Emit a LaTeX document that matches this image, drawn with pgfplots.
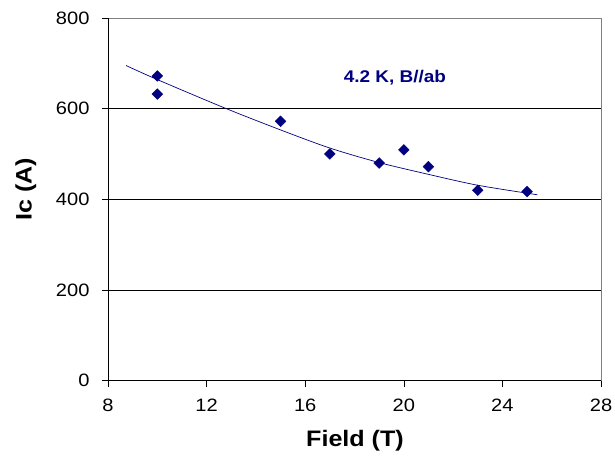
\documentclass[border=0pt]{standalone}
\usepackage{pgfplots}
\pgfplotsset{compat=1.18}
\usepackage{fontspec}
\setmainfont[FakeStretch=1.12]{Liberation Sans}
\definecolor{navy}{HTML}{000080}
\begin{document}
\begin{tikzpicture}
\useasboundingbox (-108bp,-81.3bp) rectangle (507bp,380.7bp);
\begin{axis}[
  at={(0,0)}, anchor=south west,
  scale only axis, width=493bp, height=362.8bp,
  xmin=8, xmax=28, ymin=0, ymax=800,
  xtick={8,12,16,20,24,28}, ytick={0,200,400,600,800},
  tick align=outside, tick pos=left, major tick length=6bp,
  tick style={black, line width=0.6pt},
  ymajorgrids, grid style={black, line width=0.6pt},
  axis line style={draw=none},
  /pgf/number format/assume math mode=true,
  tick label style={font=\fontsize{18}{20}\selectfont},
  yticklabel style={xshift=-9bp},
  xticklabel style={yshift=-9bp},
  xlabel={Field (T)}, ylabel={Ic (A)},
  xlabel style={font=\fontsize{22.5}{26}\selectfont\bfseries, at={(axis description cs:0.501,-0.180)}, anchor=base},
  ylabel style={font=\fontsize{22.5}{26}\selectfont\bfseries, at={(axis description cs:-0.1548,0.528)}, anchor=base},
  clip=false,
]
\addplot[navy, line width=0.7pt, smooth, no marks] coordinates {
(8.73,695) (10,664) (12.75,601) (15,553) (17,513) (19,481) (21,455) (23,431) (25.42,410)
};
\addplot[only marks, mark=square*, mark size=3.8bp, mark options={rotate=45, fill=navy, draw=navy}] coordinates {
(10,672) (10,632) (15,572) (17,500) (19,480) (20,509) (21,472) (23,420) (25,417)
};
\node[anchor=base, text=navy, font=\fontsize{17}{20}\selectfont\bfseries] at (axis cs:19.64,657) {4.2 K, B//ab};
\draw[gray, line width=0.7pt] (rel axis cs:0,1) -- (rel axis cs:1,1) -- (rel axis cs:1,0);
\draw[black, line width=0.7pt] (rel axis cs:0,1) -- (rel axis cs:0,0) -- (rel axis cs:1,0);
\end{axis}
\end{tikzpicture}
\end{document}
